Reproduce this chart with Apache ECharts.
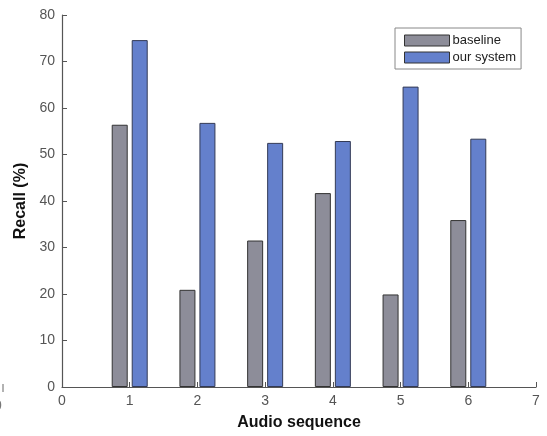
<!DOCTYPE html>
<html>
<head>
<meta charset="utf-8">
<script src="https://cdn.jsdelivr.net/npm/echarts@6/dist/echarts.min.js"></script>
<style>
  html, body { margin: 0; padding: 0; background: #fff; }
  #chart { width: 547px; height: 436px; }
</style>
</head>
<body>
<div id="chart"></div>
<script>
// Recall per audio sequence, baseline vs. our system
const sequences = [1, 2, 3, 4, 5, 6];
const baselineRecall = [56.4, 20.9, 31.5, 41.7, 19.9, 35.9];
const systemRecall = [74.6, 56.8, 52.5, 52.9, 64.6, 53.4];
const xTicks = [0, 1, 2, 3, 4, 5, 6, 7];
const yTicks = [0, 10, 20, 30, 40, 50, 60, 70, 80];

const axisColor = '#555';
const labelFont = 'Liberation Sans, Arial, sans-serif';

const chart = echarts.init(document.getElementById('chart'), null, { renderer: 'canvas' });

chart.setOption({
  animation: false,
  backgroundColor: '#fff',
  grid: { left: 62, right: 11, top: 15, bottom: 44, containLabel: false },
  legend: {
    orient: 'vertical',
    left: 395,
    top: 28,
    icon: 'rect',
    itemWidth: 45,
    itemHeight: 11,
    itemGap: 4,
    padding: [6, 5, 5, 9],
    borderColor: '#888',
    borderWidth: 1,
    backgroundColor: '#fff',
    itemStyle: { borderColor: '#333', borderWidth: 1 },
    textStyle: { fontFamily: labelFont, fontSize: 13, color: '#222', padding: [0, 0, 0, -2] },
    data: ['baseline', 'our system']
  },
  xAxis: {
    type: 'value',
    min: xTicks[0],
    max: xTicks[xTicks.length - 1],
    interval: 1,
    name: 'Audio sequence',
    nameLocation: 'middle',
    nameGap: 28,
    nameTextStyle: { fontFamily: labelFont, fontSize: 16, fontWeight: 'bold', color: '#111' },
    axisLine: { lineStyle: { color: axisColor, width: 1.2 } },
    axisTick: { inside: true, length: 5, lineStyle: { color: axisColor } },
    axisLabel: { fontFamily: labelFont, fontSize: 14, color: '#555', margin: 7 },
    splitLine: { show: false }
  },
  yAxis: {
    type: 'value',
    min: yTicks[0],
    max: yTicks[yTicks.length - 1],
    interval: 10,
    name: 'Recall (%)',
    nameLocation: 'middle',
    nameGap: 32,
    nameTextStyle: { fontFamily: labelFont, fontSize: 16, fontWeight: 'bold', color: '#111' },
    axisLine: { show: true, lineStyle: { color: axisColor, width: 1.2 } },
    axisTick: { show: true, inside: true, length: 5, lineStyle: { color: axisColor } },
    axisLabel: { fontFamily: labelFont, fontSize: 14, color: '#555', margin: 7 },
    splitLine: { show: false }
  },
  series: [
    {
      name: 'baseline',
      type: 'bar',
      barWidth: 16,
      barGap: '25%',
      itemStyle: { color: '#8d8d99', borderColor: '#333', borderWidth: 1 },
      data: sequences.map((s, i) => [s, baselineRecall[i]])
    },
    {
      name: 'our system',
      type: 'bar',
      barWidth: 16,
      barGap: '25%',
      itemStyle: { color: '#6480cc', borderColor: '#333a55', borderWidth: 1 },
      data: sequences.map((s, i) => [s, systemRecall[i]])
    }
  ],
  graphic: [
    // edge of a neighbouring panel
    { type: 'line', shape: { x1: 3, y1: 384, x2: 3, y2: 392 }, style: { stroke: '#666', lineWidth: 1 } },
    { type: 'text', left: -6, top: 399, style: { text: '0', font: '14px Liberation Sans, Arial, sans-serif', fill: '#777' } }
  ]
});
</script>
</body>
</html>
